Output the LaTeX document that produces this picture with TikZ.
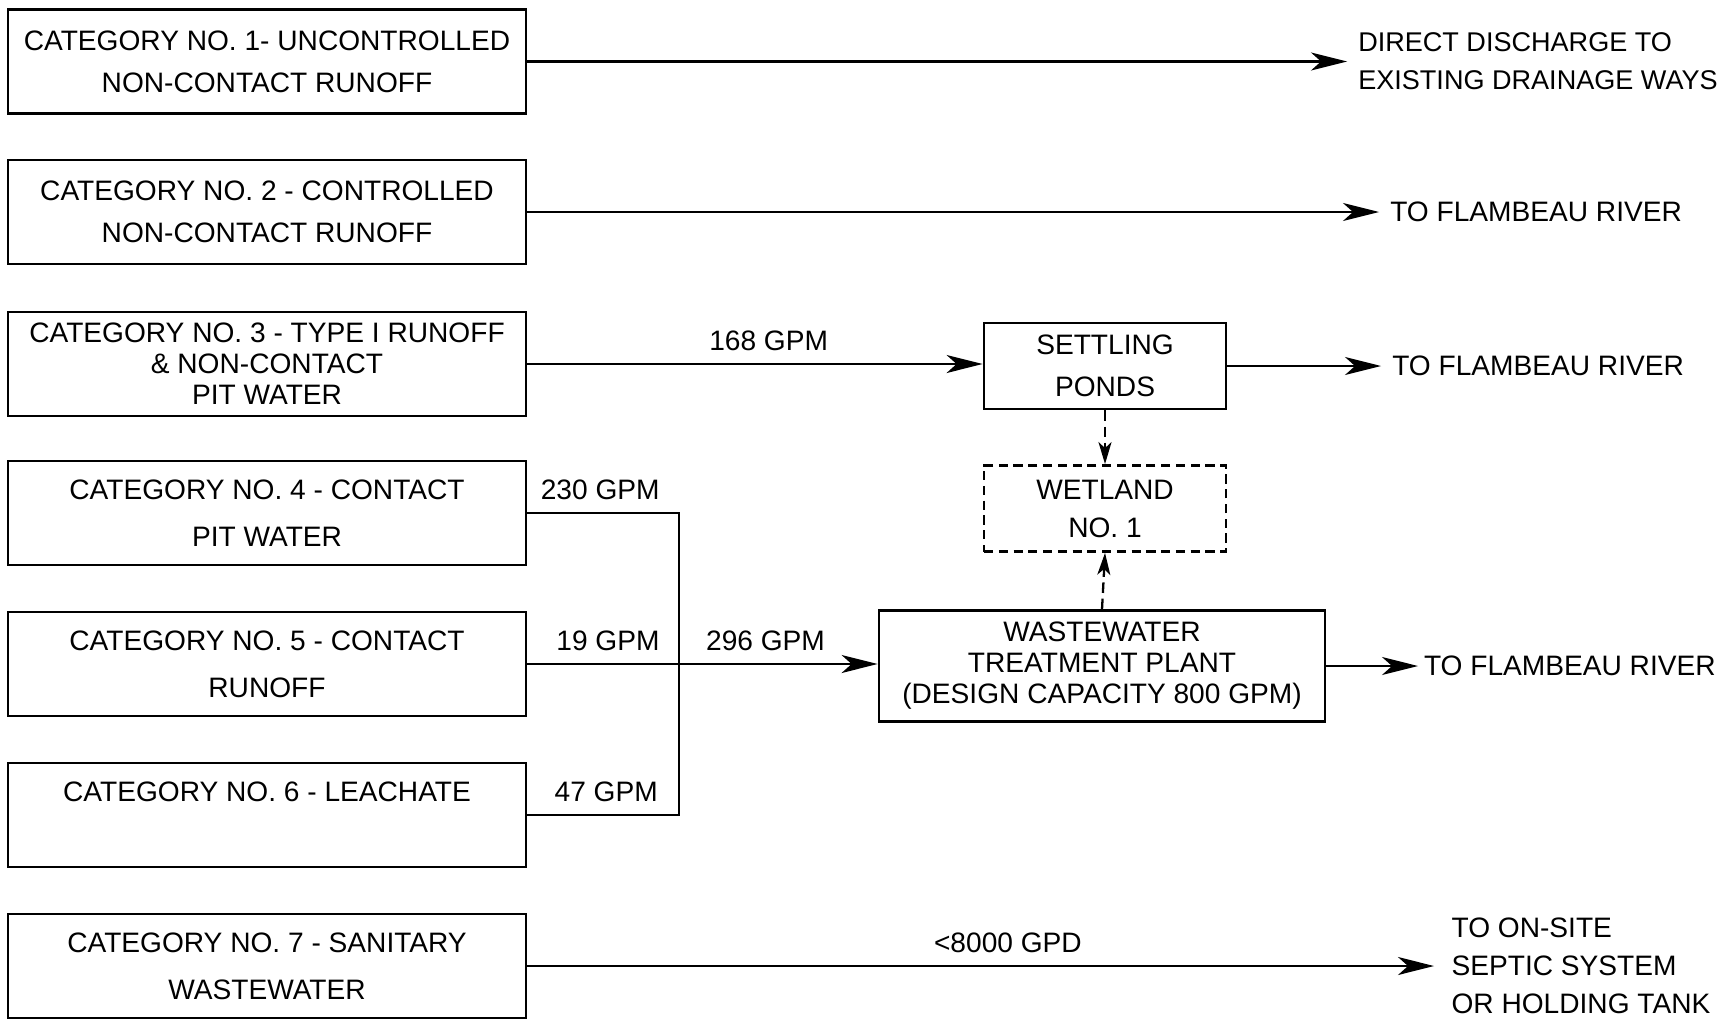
\documentclass[tikz,border=0pt]{standalone}
\usepackage{fontspec}
\setmainfont{Liberation Sans}
\usetikzlibrary{arrows.meta}

\begin{document}
\begin{tikzpicture}[x=0.1mm,y=-0.1mm,
  font=\fontsize{8}{12}\selectfont,
  catbox/.style={draw,line width=.8pt,minimum width=51.8mm,minimum height=10.4mm,
    align=center,inner sep=0pt},
  unit/.style={draw,line width=.8pt,minimum width=24.2mm,minimum height=8.6mm,
    align=center,inner sep=0pt},
  wetbox/.style={unit,dash pattern=on 2.6pt off 1.6pt},
  dest/.style={anchor=west,align=left,inner sep=3pt,font=\fontsize{8}{10.8}\selectfont},
  flow/.style={-{Stealth[length=3.6mm,width=1.8mm,inset=1mm]},line width=.65pt},
  seep/.style={-{Stealth[length=2.2mm,width=1.3mm,inset=.6mm]},line width=.65pt,
    dash pattern=on 3pt off 1.6pt},
  pipe/.style={line width=.65pt},
  rate/.style={inner sep=3.5pt}
]
  \useasboundingbox (0,0) rectangle (1723,1021);

  \node[catbox] (cat1) at (267,61.5) {CATEGORY NO. 1- UNCONTROLLED\\NON-CONTACT RUNOFF};
  \node[catbox] (cat2) at (267,212) {CATEGORY NO. 2 - CONTROLLED\\NON-CONTACT RUNOFF};
  \node[catbox] (cat3) at (267,364) {CATEGORY NO. 3 - TYPE I RUNOFF\\[-3.2pt]\& NON-CONTACT\\[-3.2pt]PIT WATER};
  \node[catbox] (cat4) at (267,513) {CATEGORY NO. 4 - CONTACT\\[1.4pt]PIT WATER};
  \node[catbox] (cat5) at (267,664) {CATEGORY NO. 5 - CONTACT\\[1.4pt]RUNOFF};
  \node[catbox] (cat6) at (267,815) {CATEGORY NO. 6 - LEACHATE\\[1.4pt]~};
  \node[catbox] (cat7) at (267,966) {CATEGORY NO. 7 - SANITARY\\[1.4pt]WASTEWATER};

  \node[unit] (ponds) at (1105,366) {SETTLING\\PONDS};
  \node[wetbox] (wetland) at (1105,508.5) {WETLAND\\[-1.2pt]NO. 1};
  \node[unit,minimum width=44.6mm,minimum height=11.1mm] (wwtp) at (1102,666)
    {WASTEWATER\\[-3.2pt]TREATMENT PLANT\\[-3.2pt](DESIGN CAPACITY 800 GPM)};

  \node[dest,font=\fontsize{7.7}{10.8}\selectfont] (drain) at (1347,61.5)
    {DIRECT DISCHARGE TO\\EXISTING DRAINAGE WAYS};
  \node[dest] (river1) at (1379,212) {TO FLAMBEAU RIVER};
  \node[dest] (river2) at (1381,366) {TO FLAMBEAU RIVER};
  \node[dest,inner xsep=1.5pt] (river3) at (1418,666) {TO FLAMBEAU RIVER};
  \node[dest,inner xsep=4.8pt] (septic) at (1434,966) {TO ON-SITE\\SEPTIC SYSTEM\\OR HOLDING TANK};

  \coordinate (bus) at (679,664);

  \draw[flow] (cat1.east) -- (drain.west);
  \draw[flow] (cat2.east) -- (river1.west);
  \draw[flow] (cat3.east) -- node[rate,above,pos=.53] {168 GPM} (cat3.east -| ponds.west);
  \draw[flow] (ponds.east) -- (river2.west);
  \draw[seep] (ponds.south) -- (wetland.north);
  \draw[seep] (wwtp.north) -- (wetland.south);
  \draw[pipe] (cat4.east) node[rate,above right] {230 GPM} -| (bus);
  \draw[pipe] (cat6.east) -| node[rate,above,pos=.26] {47 GPM} (bus);
  \draw[flow] (cat5.east) -- node[rate,above,pos=.23] {19 GPM}
    node[rate,above,pos=.68] {296 GPM} (cat5.east -| wwtp.west);
  \draw[flow] (wwtp.east) -- (river3.west);
  \draw[flow] (cat7.east) -- node[rate,above,pos=.53] {<8000 GPD} (septic.west);
\end{tikzpicture}
\end{document}
